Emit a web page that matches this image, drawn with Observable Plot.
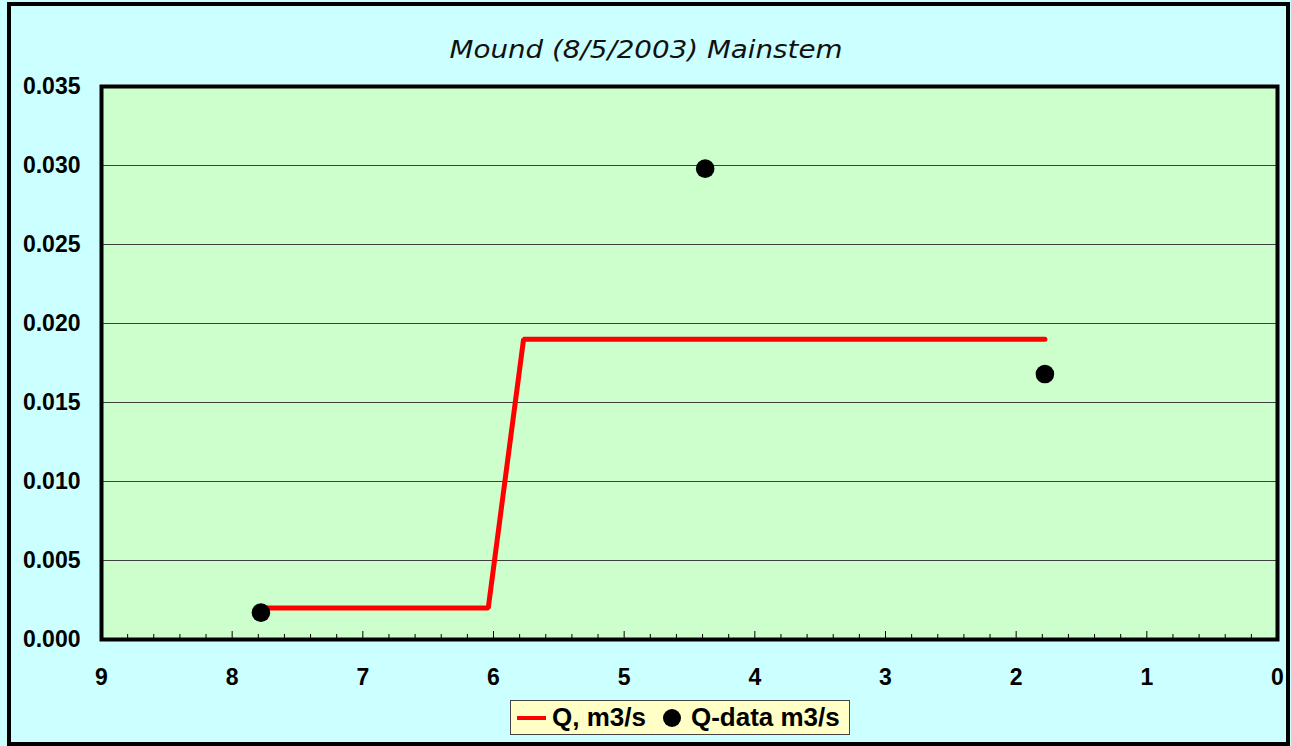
<!DOCTYPE html>
<html><head><meta charset="utf-8">
<script src="https://cdn.jsdelivr.net/npm/d3@7"></script>
<script src="https://cdn.jsdelivr.net/npm/@observablehq/plot@0.6"></script>
<style>
html,body{margin:0;padding:0;background:#ccffff;}
#wrap{position:relative;width:1291px;height:746px;background:#ccffff;overflow:hidden;font-family:"Liberation Sans",Arial,sans-serif;}
#chart{position:absolute;left:0;top:0;}
#border{position:absolute;left:7px;top:2px;width:1275px;height:736px;border:4px solid #000;}
#legend{position:absolute;left:510px;top:700px;width:338px;height:33px;background:#ffffc6;border:1px solid #444;
  display:flex;align-items:center;font-weight:bold;font-size:26px;color:#000;white-space:nowrap;}
#legend .item{display:flex;align-items:center;}
</style></head>
<body><div id="wrap"><div id="chart"></div><div id="border"></div><div id="legend"></div></div>
<script>
const titleText = "Mound (8/5/2003) Mainstem";
const seriesNames = ["Q, m3/s", "Q-data m3/s"];
// Model line (red)
const lineX = [7.78, 6.04, 5.77, 1.78];
const lineQ = [0.002, 0.002, 0.019, 0.019];
// Observed data (black dots)
const dataX = [7.78, 4.38, 1.78];
const dataQ = [0.0017, 0.0298, 0.0168];
// Axis ticks
const xTicks = [9, 8, 7, 6, 5, 4, 3, 2, 1, 0];
const yTicks = [0, 0.005, 0.010, 0.015, 0.020, 0.025, 0.030, 0.035];
const minorTicks = d3.range(1, 45).map(i => i / 5).filter(v => Math.abs(v - Math.round(v)) > 1e-6);

const W = 1291, H = 746, mL = 101, mR = 14, mT = 86, mB = 107;
const plotH = H - mT - mB;

const lineData = lineX.map((x, i) => ({x, q: lineQ[i]}));
const dotData = dataX.map((x, i) => ({x, q: dataQ[i]}));

const svg = Plot.plot({
  width: W, height: H,
  marginLeft: mL, marginRight: mR, marginTop: mT, marginBottom: mB,
  style: {background: "transparent", fontFamily: "'Liberation Sans', Arial, sans-serif", fontWeight: "bold", fontSize: "23px", color: "#000"},
  x: {domain: [9, 0], label: null},
  y: {domain: [0, 0.035], label: null},
  marks: [
    Plot.frame({fill: "#ccffcc"}),
    Plot.ruleY(yTicks.slice(1, -1), {stroke: "#404040", strokeWidth: 1}),
    Plot.tickX(minorTicks, {x: d => d, insetTop: plotH - 5, stroke: "#000", strokeWidth: 1}),
    Plot.tickX(xTicks.slice(1, -1), {x: d => d, insetTop: plotH - 8, stroke: "#000", strokeWidth: 1}),
    Plot.axisX(xTicks, {tickSize: 0, tickPadding: 29, tickFormat: d => String(d)}),
    Plot.axisY(yTicks, {tickSize: 0, tickPadding: 21, tickFormat: d3.format(".3f")}),
    Plot.line(lineData, {x: "x", y: "q", stroke: "#ff0000", strokeWidth: 5, strokeLinejoin: "miter"}),
    Plot.dot(dotData, {x: "x", y: "q", r: 9.3, fill: "#000", stroke: "none"}),
    Plot.frame({stroke: "#000", strokeWidth: 4})
  ]
});
document.getElementById("chart").appendChild(svg);

d3.select(svg).append("text")
  .attr("x", 646).attr("y", 58)
  .attr("text-anchor", "middle")
  .attr("font-family", "'DejaVu Sans', Verdana, sans-serif")
  .attr("font-style", "italic")
  .attr("font-weight", "normal")
  .attr("font-size", 24)
  .attr("fill", "#111")
  .attr("textLength", 393)
  .attr("lengthAdjust", "spacingAndGlyphs")
  .text(titleText);

// Legend
const leg = d3.select("#legend");
const it1 = leg.append("div").attr("class", "item").style("margin-left", "5px");
it1.append("svg").attr("width", 32).attr("height", 10)
  .append("line").attr("x1", 1).attr("x2", 30).attr("y1", 5).attr("y2", 5)
  .attr("stroke", "#ff0000").attr("stroke-width", 4);
it1.append("span").text(seriesNames[0]).style("margin-left", "4px");
const it2 = leg.append("div").attr("class", "item").style("margin-left", "16px");
it2.append("svg").attr("width", 20).attr("height", 20)
  .append("circle").attr("cx", 10).attr("cy", 10).attr("r", 9).attr("fill", "#000");
it2.append("span").text(seriesNames[1]).style("margin-left", "9px");
</script>
</body></html>
